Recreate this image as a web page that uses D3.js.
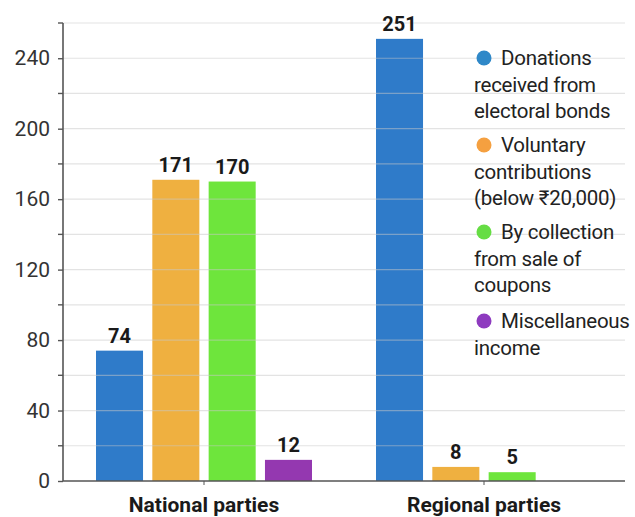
<!DOCTYPE html>
<html>
<head>
<meta charset="utf-8">
<script src="https://cdn.jsdelivr.net/npm/d3@7"></script>
<style>
  html, body { margin: 0; padding: 0; background: #fff; }
  svg { display: block; font-family: Roboto, "Noto Sans", sans-serif; }
</style>
</head>
<body>
<svg id="chart" width="635" height="517"></svg>
<script>
// Party income by source (₹ crore)
const groups = ["National parties", "Regional parties"];
const seriesNames = [
  "Donations received from electoral bonds",
  "Voluntary contributions (below ₹20,000)",
  "By collection from sale of coupons",
  "Miscellaneous income"
];
const nationalValues = [74, 171, 170, 12];
const regionalValues = [251, 8, 5, null];
const barColors = ["#2f7bc9", "#efb040", "#6ee53c", "#9438b0"];
const dotColors = ["#2f88c8", "#f5a040", "#66dd44", "#8e3bbf"];
const legendLines = [
  ["Donations", "received from", "electoral bonds"],
  ["Voluntary", "contributions", "(below ₹20,000)"],
  ["By collection", "from sale of", "coupons"],
  ["Miscellaneous", "income"]
];
const yTicks = [0, 40, 80, 120, 160, 200, 240];
const yMinorTicks = [20, 60, 100, 140, 180, 220, 260];

const valuesByGroup = [nationalValues, regionalValues];

const svg = d3.select("#chart");
const x0 = 64, x1 = 624, yBottom = 481, yTop = 23;

const y = d3.scaleLinear().domain([0, 260]).range([yBottom, yTop]);
const xGroup = d3.scaleBand().domain(groups).range([x0, x1]).padding(0);
const innerWidth = 216;
const xSeries = d3.scaleBand().domain(d3.range(seriesNames.length))
  .range([0, innerWidth]).paddingInner(0.165).paddingOuter(0);

// bars
const groupData = groups.map((g, i) => ({ group: g, values: valuesByGroup[i] }));
const shift = d => xGroup(d.group) + (xGroup.bandwidth() - innerWidth) / 2;

const barG = svg.append("g")
  .selectAll("g")
  .data(groupData)
  .join("g")
  .attr("transform", d => `translate(${shift(d)},0)`);

barG.selectAll("rect")
  .data(d => d.values.map((v, i) => ({ v, i })).filter(e => e.v != null))
  .join("rect")
  .attr("x", d => xSeries(d.i))
  .attr("width", xSeries.bandwidth())
  .attr("y", d => y(d.v))
  .attr("height", d => y(0) - y(d.v))
  .attr("fill", d => barColors[d.i]);

// gridlines every 20, laid faintly over the bars
svg.append("g")
  .selectAll("line")
  .data(d3.range(20, 261, 20))
  .join("line")
  .attr("x1", 63).attr("x2", 625)
  .attr("y1", d => y(d)).attr("y2", d => y(d))
  .attr("stroke", "#c8c8c8").attr("stroke-opacity", 0.5).attr("stroke-width", 1.2);

// value labels
const labelG = svg.append("g")
  .selectAll("g")
  .data(groupData)
  .join("g")
  .attr("transform", d => `translate(${shift(d)},0)`);

labelG.selectAll("text")
  .data(d => d.values.map((v, i) => ({ v, i })).filter(e => e.v != null))
  .join("text")
  .attr("x", d => xSeries(d.i) + xSeries.bandwidth() / 2)
  .attr("y", d => y(d.v) - 8)
  .attr("text-anchor", "middle")
  .attr("font-size", 20)
  .attr("font-weight", 700)
  .attr("fill", "#1a1a1a")
  .text(d => d.v);

// y axis: labelled ticks every 40, plain ticks in between
const yG = svg.append("g").attr("transform", "translate(63,0)")
  .call(d3.axisLeft(y).tickValues(yTicks).tickSize(5).tickPadding(8));
yG.select(".domain").attr("stroke", "#555").attr("stroke-width", 1.6)
  .attr("d", `M0,${yTop}V${yBottom}`);
yG.selectAll(".tick line").attr("stroke", "#555").attr("stroke-width", 1.4);
yG.selectAll(".tick text")
  .attr("font-size", 21)
  .attr("font-family", "Roboto, sans-serif")
  .attr("fill", "#333");

svg.append("g").attr("transform", "translate(63,0)")
  .selectAll("line")
  .data(yMinorTicks)
  .join("line")
  .attr("x1", -5).attr("x2", 0)
  .attr("y1", d => y(d)).attr("y2", d => y(d))
  .attr("stroke", "#555").attr("stroke-width", 1.4);

// x axis
const xG = svg.append("g").attr("transform", `translate(0,${yBottom})`)
  .call(d3.axisBottom(xGroup).tickSize(4).tickPadding(12));
xG.select(".domain").attr("stroke", "#555").attr("stroke-width", 1.6)
  .attr("d", `M63,0H625`);
xG.selectAll(".tick line").attr("stroke", "#555").attr("stroke-width", 1);
xG.selectAll(".tick text")
  .attr("font-size", 21)
  .attr("font-weight", 700)
  .attr("font-family", "Roboto, sans-serif")
  .attr("fill", "#1a1a1a")
  .attr("dy", "0.71em");

// legend
const legendTops = [65, 152, 239, 328];
const lineGap = 26.5;
const legend = svg.append("g");
legendLines.forEach((lines, i) => {
  const base = legendTops[i];
  legend.append("circle")
    .attr("cx", 484).attr("cy", base - 7)
    .attr("r", 7.5)
    .attr("fill", dotColors[i]);
  lines.forEach((t, j) => {
    legend.append("text")
      .attr("x", j === 0 ? 501 : 474)
      .attr("y", base + j * lineGap)
      .attr("font-size", 20.5)
      .attr("letter-spacing", -0.25)
      .attr("fill", "#222")
      .text(t);
  });
});
</script>
</body>
</html>
